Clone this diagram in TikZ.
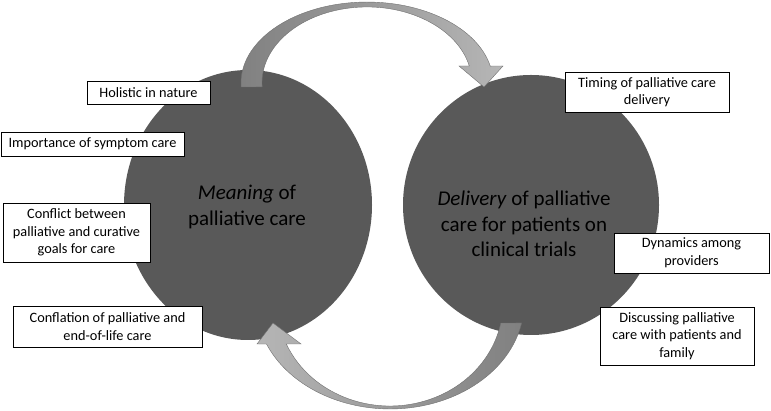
\documentclass[tikz,border=0pt]{standalone}
\usepackage{fontspec}
\setmainfont{Carlito}
\usetikzlibrary{shapes.geometric}

\definecolor{topicgray}{RGB}{89,89,89}
\definecolor{banddark}{RGB}{128,128,128}
\definecolor{bandlight}{RGB}{182,182,182}
\definecolor{bandedge}{RGB}{112,112,112}

\begin{document}
\begin{tikzpicture}[x=1pt, y=1pt,
    topic/.style={ellipse, fill=topicgray, inner sep=0pt},
    topictext/.style={align=center, font=\fontsize{21}{25.5}\selectfont},
    theme/.style={rectangle, draw, fill=white, line width=0.8pt, align=center,
      inner sep=2pt, font=\fontsize{14.3}{17.6}\selectfont},
    band/.style={draw=bandedge, line width=0.4pt}]
  \useasboundingbox (0,0) rectangle (771,411);

  % the two themes
  \node[topic, minimum width=248pt, minimum height=270pt] (meaning) at (248,206) {};
  \node[topic, minimum width=256pt, minimum height=260pt] (delivery) at (531,206) {};
  \node[topictext] (meaningtext) at (247,204) {\textit{Meaning} of\\palliative care};
  \node[topictext] (deliverytext) at (524,187)
    {\textit{Delivery} of palliative\\care for patients on\\clinical trials};

  % curved arrows between them
  \path[band, left color=banddark, right color=bandlight]
    (241.2,324) arc[start angle=182.8, end angle=12.1, x radius=126, y radius=81]
    -- (503,345) -- (484,324) -- (459,345) -- (469.3,345)
    arc[start angle=12.9, end angle=183, x radius=105, y radius=76] -- cycle;
  \path[band, left color=bandlight, right color=banddark]
    (521.6,88) arc[start angle=-10.9, end angle=-157.2, x radius=134, y radius=106]
    -- (257,67) -- (273,88) -- (301,67) -- (286.3,67)
    arc[start angle=-156.55, end angle=-11.2, x radius=113, y radius=103] -- cycle;

  % sub-themes
  \node[theme, minimum width=123pt, minimum height=23pt] (holistic) at (148.5,318.5)
    {Holistic in nature};
  \node[theme, minimum width=183pt, minimum height=24pt] (symptom) at (92.5,267)
    {Importance of symptom care};
  \node[theme, minimum width=147pt, minimum height=59pt] (conflict) at (76.5,178.5)
    {Conflict between\\palliative and curative\\goals for care};
  \node[theme, minimum width=189pt, minimum height=41pt] (conflation) at (107.5,84.5)
    {Conflation of palliative and\\end-of-life care};
  \node[theme, minimum width=164pt, minimum height=40pt] (timing) at (647,319)
    {Timing of palliative care\\delivery};
  \node[theme, minimum width=155pt, minimum height=40pt] (dynamics) at (691.5,158)
    {Dynamics among\\providers};
  \node[theme, minimum width=154pt, minimum height=58pt] (discussing) at (677,75)
    {Discussing palliative\\care with patients and\\family};
\end{tikzpicture}
\end{document}
